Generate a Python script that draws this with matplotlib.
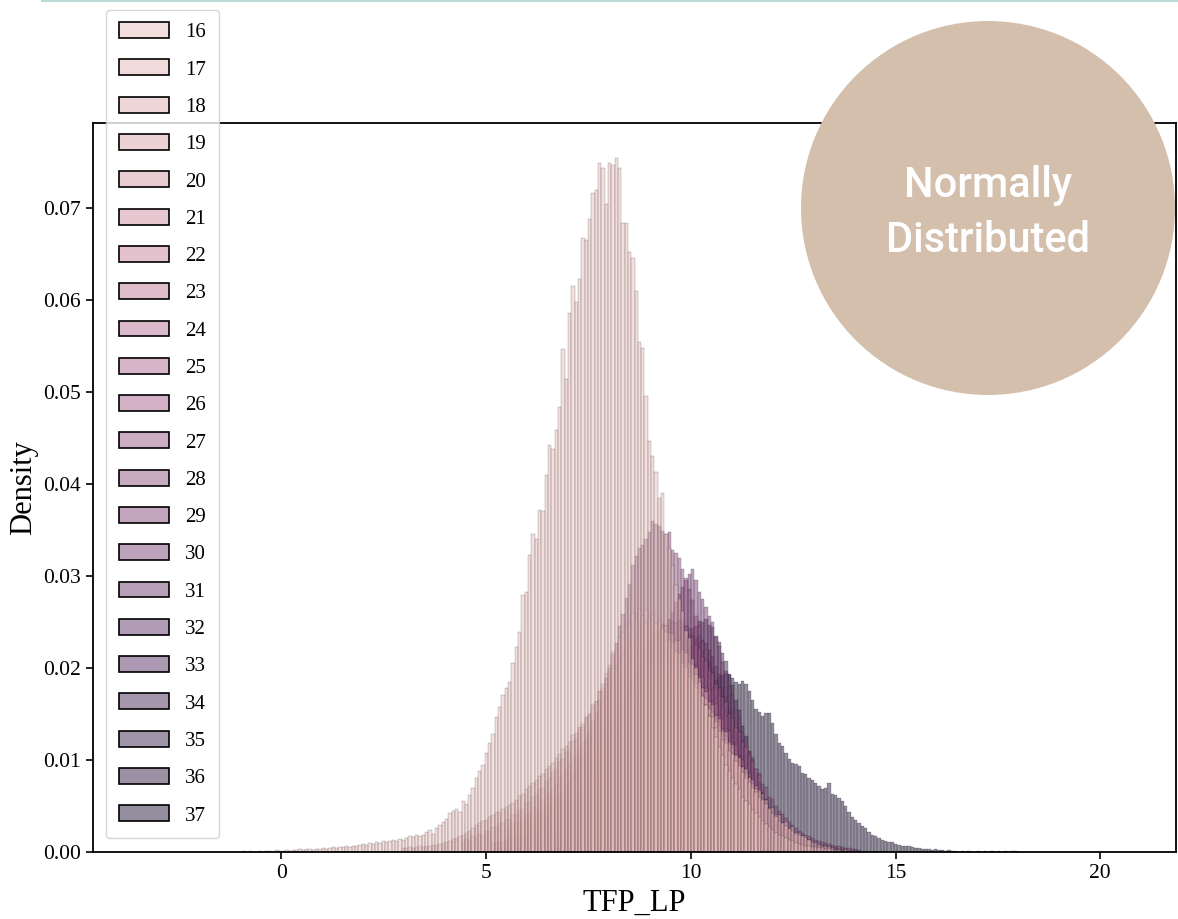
import matplotlib
matplotlib.use("Agg")
import matplotlib.pyplot as plt
import numpy as np
import seaborn as sns
from matplotlib.patches import Patch, Ellipse
from matplotlib.lines import Line2D
from matplotlib.colors import Normalize, to_rgba
from matplotlib.ticker import FormatStrFormatter

# ---------------- data (densities in units of 1e-4, common histogram bins) ----------------
bin_left = -3.4
bin_width = 0.08125

hue_levels = list(range(16, 38))
y_ticks = [0.00, 0.01, 0.02, 0.03, 0.04, 0.05, 0.06, 0.07]
x_ticks = [0, 5, 10, 15, 20]

g16_start = 30
g16 = [1,0,1,0,0,1,0,1,1,0,
       2,1,1,2,1,2,2,3,2,3,
       3,2,3,3,4,3,4,5,4,5,
       5,6,5,7,6,8,9,8,10,9,
       11,10,12,11,12,13,12,14,13,15,
       17,16,18,17,18,22,24,20,26,29,
       33,36,42,45,47,44,55,52,62,70,
       80,88,95,108,118,128,147,158,171,178,
       185,205,223,239,279,283,323,345,340,372,
       370,410,442,438,459,483,547,514,586,615,
       598,622,667,665,688,716,719,749,743,704,
       749,746,754,743,683,683,652,645,610,554,
       548,495,446,430,413,385,390,345,330,312,
       290,275,262,240,232,210,200,185,170,160,
       148,135,125,114,105,95,88,80,74,68,
       60,55,52,46,42,38,34,30,27,24,
       21,19,17,15,13,12,10,9,8,7,
       6,5,5,4,4,3,3,2,2,2,
       1,2,1,1,1]

g17_start = 78
g17 = [4,4,5,4,5,6,5,7,6,8,
       8,9,10,11,12,14,15,17,18,21,
       23,26,29,31,34,35,38,40,43,44,
       47,49,51,53,56,61,63,68,72,75,
       78,83,85,90,93,97,102,106,112,115,
       120,127,129,136,139,146,149,157,163,174,
       182,194,203,217,220,234,238,247,249,260,
       253,264,257,263,254,259,249,252,242,239,
       230,228,218,216,205,201,190,187,178,173,
       161,160,148,147,135,132,122,118,110,107,
       99,93,87,80,76,70,65,60,56,52,
       47,42,38,34,31,28,25,23,21,19,
       17,15,13,11,10,8,7,6,5,4]

g18_start = 96
g18 = [11,14,13,17,16,20,19,23,23,27,
       27,31,31,36,36,40,41,46,47,53,
       54,60,62,68,70,77,80,87,90,98,
       101,109,111,121,123,134,136,147,150,161,
       164,175,178,188,190,200,202,212,214,224,
       226,235,236,243,243,249,247,252,247,250,
       245,245,238,237,229,229,219,216,205,203,
       192,189,178,174,163,160,148,144,133,130,
       119,116,105,102,92,90,80,78,68,67,
       58,57,48,48,40,40,32,33,26,27,
       20,21,17,17,13]

g19_start = 110
g19 = [27,31,31,35,36,41,42,47,49,55,
       56,62,64,71,74,81,84,91,94,102,
       106,114,119,127,131,140,145,153,157,166,
       171,179,182,191,194,203,205,213,215,222,
       222,228,228,231,229,231,227,229,222,223,
       215,214,205,204,194,192,182,179,168,166,
       155,151,141,137,127,122,112,108,98,95,
       86,83,74,71,62,58]

g20_start = 114
g20 = [29,33,34,38,39,44,45,50,52,58,
       60,63,68,72,76,80,86,90,97,101,
       108,112,120,125,133,136,145,149,157,161,
       169,172,181,184,192,195,201,203,208,209,
       214,213,215,211,212,207,206,200,199,192,
       189,182,179,170,167,158,155,146,141,133,
       130,120,117,106,104,95,92,85,82,74,
       72,65,63]

g21_start = 129
g21 = [55,57,68,70,80,83,95,97,108,112,124,127,139,141,155,156,168,169,179,180,
       189,187,197,194,201,198,203,196,200,193,197,186,189,178,180,168,167,155,154,
       140,139,126,125,110,111,97,96,82,81,69,68,58,57]

g22_start = 130
g22 = [49,58,60,70,72,82,85,96,99,110,113,124,128,139,141,152,154,164,166,175,
       175,183,182,189,186,192,188,191,187,186,182,178,175,170,166,160,158,148,145,
       135,132,120,117,106,103,92,89,78,76,66,64,55,53]

g23_start = 130
g23 = [46,52,57,63,68,76,80,88,94,103,108,117,124,131,137,146,150,160,162,171,
       174,180,181,186,184,187,185,186,183,183,178,177,171,170,164,160,154,150,143,
       138,132,127,120,115,108,102,96,90,84,79,73,68,62]

g24_start = 131
g24 = [52,60,64,72,77,86,90,100,104,115,119,130,134,145,149,159,163,172,175,183,
       185,191,193,198,197,201,199,202,196,198,192,191,184,183,174,172,162,160,149,
       147,135,133,120,118,105,104,91,90,78,76,66,63,55]

g25_start = 132
g25 = [57,60,70,73,80,88,93,102,107,116,121,131,136,146,150,160,163,172,176,184,
       186,195,194,203,202,209,206,211,205,207,200,199,193,190,183,180,171,167,158,
       153,145,140,130,126,116,113,103,98,90,86,76,72,63]

g26_start = 132
g26 = [60,69,73,83,88,98,103,115,120,131,136,149,153,164,167,178,181,193,194,205,
       206,215,214,224,221,228,231,227,230,222,224,215,213,204,202,192,190,178,176,
       163,161,149,145,134,131,118,116,103,100,88,86,75,70]

g27_start = 133
g27 = [66,75,80,90,97,105,114,124,131,142,150,160,169,179,187,196,204,213,219,229,
       232,240,241,248,247,252,250,249,251,244,245,236,234,225,222,212,208,197,194,
       182,178,168,163,150,146,135,130,120,114,105,99,90,84]

g28_start = 105
g28 = [10,11,11,12,13,14,15,16,17,18,
       20,22,25,28,31,35,39,44,49,54,
       61,65,74,79,88,94,105,112,123,130,
       142,151,165,175,189,200,215,227,245,259,
       276,291,312,322,330,334,340,348,360,356,
       354,349,346,348,328,325,319,308,298,286,
       274,256,247,228,220,201,194,178,170,155,
       147,131,124,110,104,91,87,75,72,61,
       57,52,47,42,38,34,31,28,25,22,
       20,18,16,14,12,11,9,8,7,6,
       6,5,4,4,3,3]

g29_start = 135
g29 = [68,73,82,88,98,104,116,122,133,140,151,158,171,176,189,194,205,210,222,225,
       235,237,245,246,251,249,252,250,246,243,236,230,220,212,199,190,176,165,151,
       140,126,116,102,93,80,73,61,55,46,41,33,30,23]

g30_start = 120
g30 = [12,13,15,16,18,20,22,24,26,29,
       33,34,40,42,48,51,58,62,70,74,
       82,87,96,101,111,117,128,135,146,154,
       166,175,188,197,210,219,232,241,253,261,
       272,280,288,296,302,307,296,283,275,266,
       256,250,234,224,206,197,180,171,154,146,
       130,123,109,103,90,86,74,71,60,58,
       50,45,41,37,33,29,26,23,21,19,
       17,15,13,12,11,10,9,8,7,6,
       5,4,4,3,3,2]

g31_start = 137
g31 = [39,47,50,59,65,75,81,92,97,109,116,128,135,147,155,166,173,184,190,199,
       204,212,215,221,222,225,226,223,222,215,212,201,195,182,174,159,150,135,125,
       110,101,87,79,66,60,49,44,35,31,24,21,16,14]

g32_start = 139
g32 = [42,46,53,58,68,74,84,92,101,109,121,129,140,149,160,168,179,186,197,201,
       211,215,222,224,229,228,231,228,227,219,216,205,199,186,178,163,153,138,128,
       113,103,89,81,68,61,50,45,36,32,25,22,17,15]

g33_start = 140
g33 = [41,49,52,61,67,77,84,96,101,113,121,134,141,154,162,173,181,192,199,208,
       213,221,225,231,232,235,233,235,230,227,219,213,202,193,179,169,155,144,129,
       118,104,94,81,72,61,54,44,39,31,27,21,18,13]

g34_start = 125
g34 = [10,11,12,14,15,17,19,22,25,28,
       31,34,38,42,46,51,56,61,67,73,
       80,85,94,99,109,115,125,132,142,149,
       160,167,178,185,196,203,213,219,229,235,
       243,246,251,250,253,
       247,244,235,228,216,207,192,181,165,154,137,126,110,101,86,77,65,58,47,42,
       33,29,22,20,15,12,10,8,6,5,4,3,2,2,1]

g35_start = 138
g35 = [35,42,45,53,57,66,71,82,86,97,103,114,120,131,138,148,154,164,169,177,
       181,189,191,197,197,200,199,200,196,194,186,181,171,164,152,144,131,122,109,
       101,88,80,68,62,51,46,37,33,26,23,18,15,12]

g36_start = 141
g36 = [33,40,43,50,54,63,68,78,82,92,98,108,114,125,131,141,146,156,161,168,
       172,180,181,187,187,190,191,188,188,182,179,170,165,154,147,135,127,114,106,
       94,86,74,67,57,51,42,37,30,27,20,18,13,12]

g37_start = 120
g37 = [5,6,7,8,9,10,11,12,14,15,
       17,19,21,23,25,28,31,34,36,39,
       42,46,49,53,56,60,63,67,71,75,
       80,83,89,92,99,102,109,113,120,123,
       131,134,142,145,153,156,163,166,173,175,
       180,184,187,190,192,194,193,189,185,183,
       186,182,175,165,155,152,148,151,151,140,
       128,118,115,108,101,97,96,93,86,85,
       80,78,75,72,68,69,75,63,62,59,
       55,50,44,38,35,31,28,26,22,19,
       17,15,13,12,11,11,9,8,7,6,
       6,5,4,4,3,3,3,2,3,2,
       2,1,2,1,1,0,1,0,1,0,
       0,1,0,1,0,1,0,1,0,1,
       0,1,1]

group_starts = [g16_start, g17_start, g18_start, g19_start, g20_start, g21_start,
                g22_start, g23_start, g24_start, g25_start, g26_start, g27_start,
                g28_start, g29_start, g30_start, g31_start, g32_start, g33_start,
                g34_start, g35_start, g36_start, g37_start]
group_values = [g16, g17, g18, g19, g20, g21, g22, g23, g24, g25, g26, g27,
                g28, g29, g30, g31, g32, g33, g34, g35, g36, g37]

# ---------------- figure ----------------
W, H = 1178, 919
fig = plt.figure(figsize=(W / 100, H / 100), dpi=100)
ax = fig.add_axes([93 / W, 1 - 852 / H, (1176 - 93) / W, (852 - 123) / H])

serif = ["Liberation Serif", "DejaVu Serif"]

cmap = sns.cubehelix_palette(light=0.8, dark=0.15, as_cmap=True)
norm = Normalize(min(hue_levels), max(hue_levels))

for level, start, vals in reversed(list(zip(hue_levels, group_starts, group_values))):
    heights = np.asarray(vals, dtype=float) * 1e-4
    idx = np.arange(start, start + len(heights))
    lefts = bin_left + idx * bin_width
    ax.bar(lefts, heights, width=bin_width, align="edge",
           facecolor=to_rgba(cmap(norm(level)), 0.5),
           edgecolor="black", linewidth=0.12)

ax.set_xlim(-4.6, 21.85)
ax.set_ylim(0, 0.0792)
ax.set_xticks(x_ticks)
ax.set_yticks(y_ticks)
ax.yaxis.set_major_formatter(FormatStrFormatter("%.2f"))
for lab in ax.get_xticklabels() + ax.get_yticklabels():
    lab.set_family(serif)
    lab.set_fontsize(15.5)
ax.tick_params(width=1.2, length=5)
for sp in ax.spines.values():
    sp.set_linewidth(1.3)
ax.set_xlabel("TFP_LP", family=serif, fontsize=22)
ax.set_ylabel("Density", family=serif, fontsize=22)

handles = [Patch(facecolor=to_rgba(cmap(norm(l)), 0.5), edgecolor="black",
                 linewidth=1.2, label=str(l)) for l in hue_levels]
leg = ax.legend(handles=handles, loc="lower left",
                bbox_to_anchor=(106 / W, 1 - 838 / H), bbox_transform=fig.transFigure,
                borderaxespad=0, prop={"family": serif, "size": 15},
                labelspacing=0.82, handlelength=2.4, handleheight=0.8,
                handletextpad=0.8, borderpad=0.6, fancybox=True, framealpha=0.8)
leg.get_frame().set_edgecolor("#cccccc")

# circle badge
circle = Ellipse((988 / W, 1 - 208 / H), width=2 * 187 / W, height=2 * 187 / H,
                 transform=fig.transFigure, facecolor="#d3bfac", edgecolor="none", zorder=10)
fig.add_artist(circle)
fig.text(988 / W, 1 - 197 / H, "Normally", ha="center", va="baseline", color="white",
         fontsize=30, fontweight="medium", family=["Roboto", "DejaVu Sans"], zorder=11)
fig.text(988 / W, 1 - 252 / H, "Distributed", ha="center", va="baseline", color="white",
         fontsize=30, fontweight="medium", family=["Roboto", "DejaVu Sans"], zorder=11)

# thin teal rule at top
fig.add_artist(Line2D([42 / W, 1], [1 - 1 / H, 1 - 1 / H], transform=fig.transFigure,
                      color="#bcdad6", linewidth=1.5))

fig.savefig("out.png", dpi=100)
